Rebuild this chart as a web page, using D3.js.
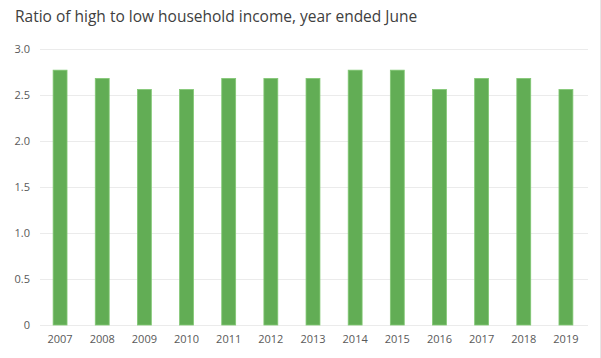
<!DOCTYPE html>
<html><head><meta charset="utf-8">
<script src="https://cdn.jsdelivr.net/npm/d3@7"></script>
<style>body{margin:0;background:#fff}svg{display:block}</style>
</head><body><svg id="c" width="601" height="358"></svg>
<script>
const years = ["2007","2008","2009","2010","2011","2012","2013","2014","2015","2016","2017","2018","2019"];
const ratio = [2.77,2.68,2.56,2.56,2.68,2.68,2.68,2.77,2.77,2.56,2.68,2.68,2.56];
const yTicks = [0,0.5,1.0,1.5,2.0,2.5,3.0];
const yTickLabels = ["0","0.5","1.0","1.5","2.0","2.5","3.0"];

const svg = d3.select("#c");
const font = "'Open Sans', sans-serif";
const x = d3.scaleBand().domain(years).range([39, 587]).paddingInner(0.67).paddingOuter(0.335);
const y = d3.scaleLinear().domain([0, 3]).range([325, 49]);

svg.append("text").attr("x", 15).attr("y", 22).attr("font-family", font).attr("font-size", 15.5)
  .attr("fill", "#404040").text("Ratio of high to low household income, year ended June");

const g = svg.append("g");
g.selectAll("line.grid").data(yTicks).join("line").attr("class","grid")
  .attr("x1", 40).attr("x2", 588).attr("y1", d => y(d)+0.5).attr("y2", d => y(d)+0.5)
  .attr("stroke", "#ebebeb").attr("stroke-width", 1);

g.selectAll("text.yl").data(yTicks).join("text").attr("class","yl")
  .attr("x", 30).attr("y", d => y(d)).attr("dy", "0.35em").attr("text-anchor", "end")
  .attr("font-family", font).attr("font-size", 11).attr("fill", "#595959")
  .text((d,i) => yTickLabels[i]);

g.selectAll("rect.bar").data(years).join("rect").attr("class","bar")
  .attr("x", d => x(d)).attr("width", x.bandwidth())
  .attr("y", (d,i) => y(ratio[i])).attr("height", (d,i) => y(0) - y(ratio[i]))
  .attr("fill", "#62ad55").attr("stroke", "#82c874").attr("stroke-width", 0.8);

g.selectAll("text.xl").data(years).join("text").attr("class","xl")
  .attr("x", d => x(d) + x.bandwidth()/2).attr("y", 343).attr("text-anchor", "middle")
  .attr("font-family", font).attr("font-size", 11).attr("fill", "#595959").text(d => d);

svg.append("line").attr("x1", 600.5).attr("x2", 600.5).attr("y1", 0).attr("y2", 358)
  .attr("stroke", "#e6e6e6");
</script></body></html>
